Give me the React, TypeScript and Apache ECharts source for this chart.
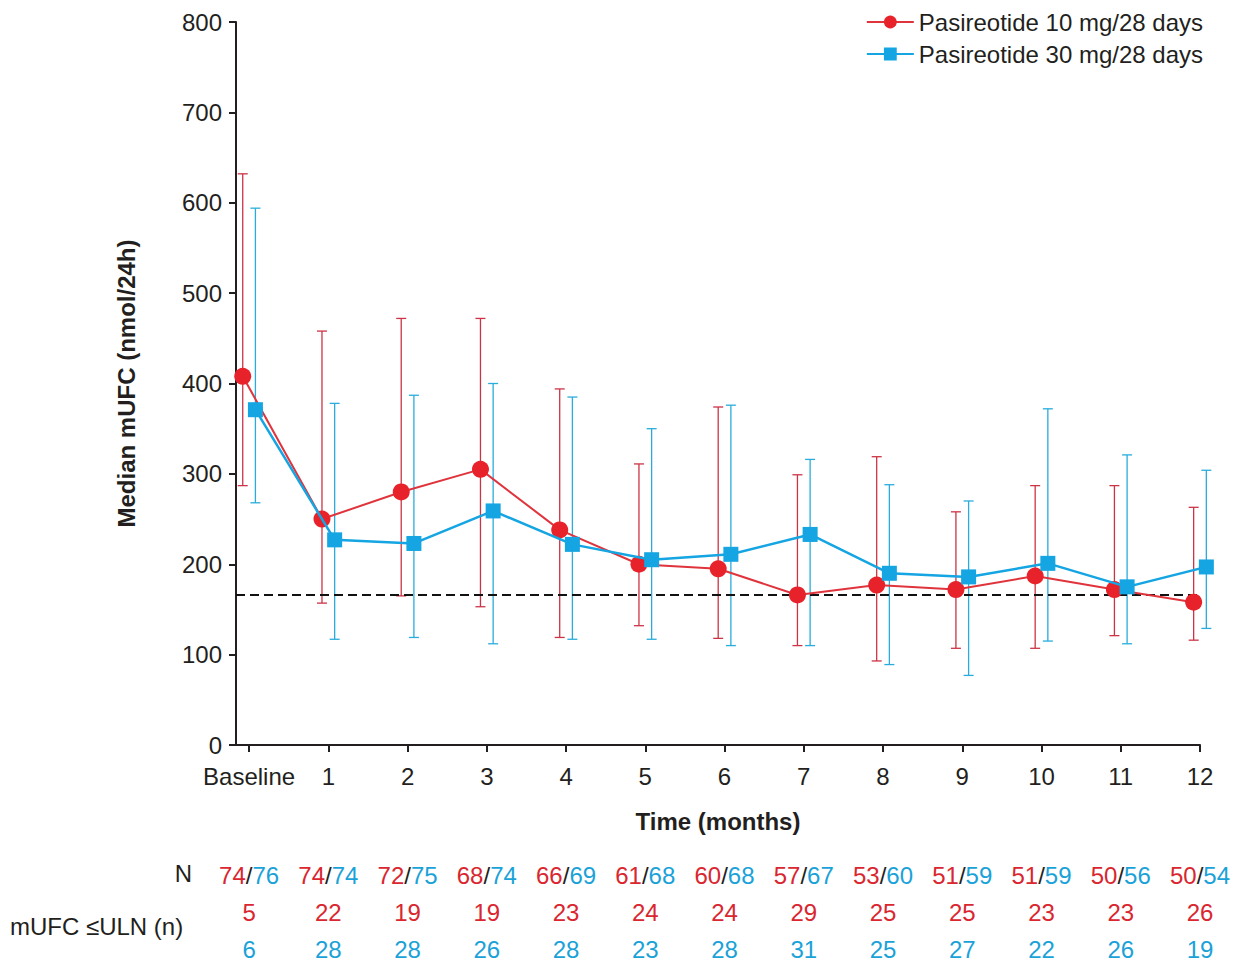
import React, { useEffect, useRef } from "react";
import * as echarts from "echarts";

const months = [0, 1, 2, 3, 4, 5, 6, 7, 8, 9, 10, 11, 12];
const tickLabels = ["Baseline", "1", "2", "3", "4", "5", "6", "7", "8", "9", "10", "11", "12"];

const red10 = [408, 250, 280, 305, 238, 200, 195, 166, 177, 172, 187, 172, 158];
const red10Low = [287, 157, 165, 153, 119, 132, 118, 110, 93, 107, 107, 121, 116];
const red10High = [632, 458, 472, 472, 394, 311, 374, 299, 319, 258, 287, 287, 263];

const blue30 = [371, 227, 223, 259, 222, 205, 211, 233, 190, 186, 201, 175, 197];
const blue30Low = [268, 117, 119, 112, 117, 117, 110, 110, 89, 77, 115, 112, 129];
const blue30High = [594, 378, 387, 400, 385, 350, 376, 316, 288, 270, 372, 321, 304];

const nRed = [74, 74, 72, 68, 66, 61, 60, 57, 53, 51, 51, 50, 50];
const nBlue = [76, 74, 75, 74, 69, 68, 68, 67, 60, 59, 59, 56, 54];
const ulnRed = [5, 22, 19, 19, 23, 24, 24, 29, 25, 25, 23, 23, 26];
const ulnBlue = [6, 28, 28, 26, 28, 23, 28, 31, 25, 27, 22, 26, 19];

const ulnLine = 166;
const seriesNames = ["Pasireotide 10 mg/28 days", "Pasireotide 30 mg/28 days"];

const RED = "#e8222b";
const RED_BAR = "#cc3446";
const BLUE = "#14a5e2";
const BLUE_BAR = "#29acdc";
const TEXT = "#231f20";
const TXT_RED = "#d9262f";
const TXT_BLUE = "#1aa2d8";
const FONT = "'Liberation Sans', Arial, Helvetica, sans-serif";
const OFF = 0.08;

function errorBarSeries(name: string, xs: number[], lo: number[], hi: number[], color: string) {
  return {
    type: "custom",
    name: name + " range",
    silent: true,
    z: 1,
    clip: false,
    encode: { x: 0, y: [1, 2] },
    data: xs.map((x, i) => [x, lo[i], hi[i]]),
    renderItem: (params: any, api: any) => {
      const x = api.value(0);
      const top = api.coord([x, api.value(2)]);
      const bot = api.coord([x, api.value(1)]);
      const w = 5;
      const st = { stroke: color, lineWidth: 1.3 };
      return {
        type: "group",
        children: [
          { type: "line", shape: { x1: top[0], y1: top[1], x2: bot[0], y2: bot[1] }, style: st },
          { type: "line", shape: { x1: top[0] - w, y1: top[1], x2: top[0] + w, y2: top[1] }, style: st },
          { type: "line", shape: { x1: bot[0] - w, y1: bot[1], x2: bot[0] + w, y2: bot[1] }, style: st },
        ],
      };
    },
  };
}

export default function App() {
  const ref = useRef<HTMLDivElement>(null);
  useEffect(() => {
    if (!ref.current) return;
    const chart = echarts.init(ref.current, undefined, { renderer: "svg" });
    const redX = months.map((m) => m - OFF);
    const blueX = months.map((m) => m + OFF);
    const xMin = -0.165;
    const xMax = 12;

    const option: any = {
      animation: false,
      backgroundColor: "#ffffff",
      textStyle: { fontFamily: FONT, color: TEXT },
      grid: { left: 236, right: 44, top: 22, bottom: 219, containLabel: false, outerBoundsMode: "none" },
      legend: {
        data: seriesNames,
        orient: "vertical",
        right: 36,
        top: 5,
        itemWidth: 47,
        itemHeight: 16,
        itemGap: 8,
        textStyle: { fontSize: 24, color: TEXT, fontFamily: FONT, lineHeight: 24 },
      },
      xAxis: [
        {
          type: "value",
          min: xMin,
          max: xMax,
          name: "Time (months)",
          nameLocation: "middle",
          nameGap: 64,
          nameTextStyle: { fontSize: 24, fontWeight: "bold", color: TEXT, fontFamily: FONT },
          axisLine: { show: true, onZero: false, lineStyle: { color: TEXT, width: 2 } },
          axisTick: { show: true, length: 7, customValues: months, lineStyle: { color: TEXT, width: 2 } },
          axisLabel: {
            customValues: months,
            fontSize: 24,
            color: TEXT,
            margin: 19,
            formatter: (v: number) => tickLabels[months.indexOf(Math.round(v))] ?? "",
          },
          splitLine: { show: false },
        },
        {
          type: "value",
          min: xMin,
          max: xMax,
          position: "bottom",
          offset: 100,
          axisLine: { show: false },
          axisTick: { show: false },
          splitLine: { show: false },
          axisLabel: {
            customValues: months,
            margin: 12,
            fontSize: 24,
            lineHeight: 37,
            formatter: (v: number) => {
              const i = months.indexOf(Math.round(v));
              if (i < 0) return "";
              return `{r|${nRed[i]}}{k|/}{b|${nBlue[i]}}\n{r|${ulnRed[i]}}\n{b|${ulnBlue[i]}}`;
            },
            rich: {
              r: { color: TXT_RED, fontSize: 24, lineHeight: 37, fontFamily: FONT },
              b: { color: TXT_BLUE, fontSize: 24, lineHeight: 37, fontFamily: FONT },
              k: { color: TEXT, fontSize: 24, lineHeight: 37, fontFamily: FONT },
            },
          },
        },
      ],
      yAxis: {
        type: "value",
        min: 0,
        max: 800,
        interval: 100,
        name: "Median mUFC (nmol/24h)",
        nameLocation: "middle",
        nameGap: 98,
        nameTextStyle: { fontSize: 24, fontWeight: "bold", color: TEXT, fontFamily: FONT },
        axisLine: { show: true, onZero: false, lineStyle: { color: TEXT, width: 2 } },
        axisTick: { show: true, length: 7, lineStyle: { color: TEXT, width: 2 } },
        axisLabel: { fontSize: 24, color: TEXT, margin: 14 },
        splitLine: { show: false },
      },
      graphic: [
        {
          type: "text",
          right: 1244 - 192,
          top: 861,
          style: { text: "N", fontSize: 24, fill: TEXT, fontFamily: FONT, textAlign: "right" },
        },
        {
          type: "text",
          left: 10,
          top: 914,
          style: { text: "mUFC \u2264ULN (n)", fontSize: 24, fill: TEXT, fontFamily: FONT },
        },
      ],
      series: [
        errorBarSeries(seriesNames[0], redX, red10Low, red10High, RED_BAR),
        errorBarSeries(seriesNames[1], blueX, blue30Low, blue30High, BLUE_BAR),
        {
          type: "line",
          name: "ULN",
          silent: true,
          clip: false,
          symbol: "none",
          z: 2,
          data: [
            [xMin, ulnLine],
            [12.28, ulnLine],
          ],
          lineStyle: { color: "#111111", width: 2, type: [9, 5] },
        },
        {
          type: "line",
          name: seriesNames[0],
          data: redX.map((x, i) => [x, red10[i]]),
          symbol: "circle",
          symbolSize: 17,
          clip: false,
          z: 3,
          itemStyle: { color: RED },
          lineStyle: { color: "#e0343d", width: 2 },
        },
        {
          type: "line",
          name: seriesNames[1],
          data: blueX.map((x, i) => [x, blue30[i]]),
          symbol: "rect",
          symbolSize: 15,
          clip: false,
          z: 4,
          itemStyle: { color: BLUE },
          lineStyle: { color: BLUE, width: 2.5 },
        },
      ],
    };
    chart.setOption(option);
    return () => chart.dispose();
  }, []);
  return (
    <div
      ref={ref}
      style={{ position: "absolute", left: 0, top: 0, width: 1244, height: 964, background: "#fff" }}
    />
  );
}
